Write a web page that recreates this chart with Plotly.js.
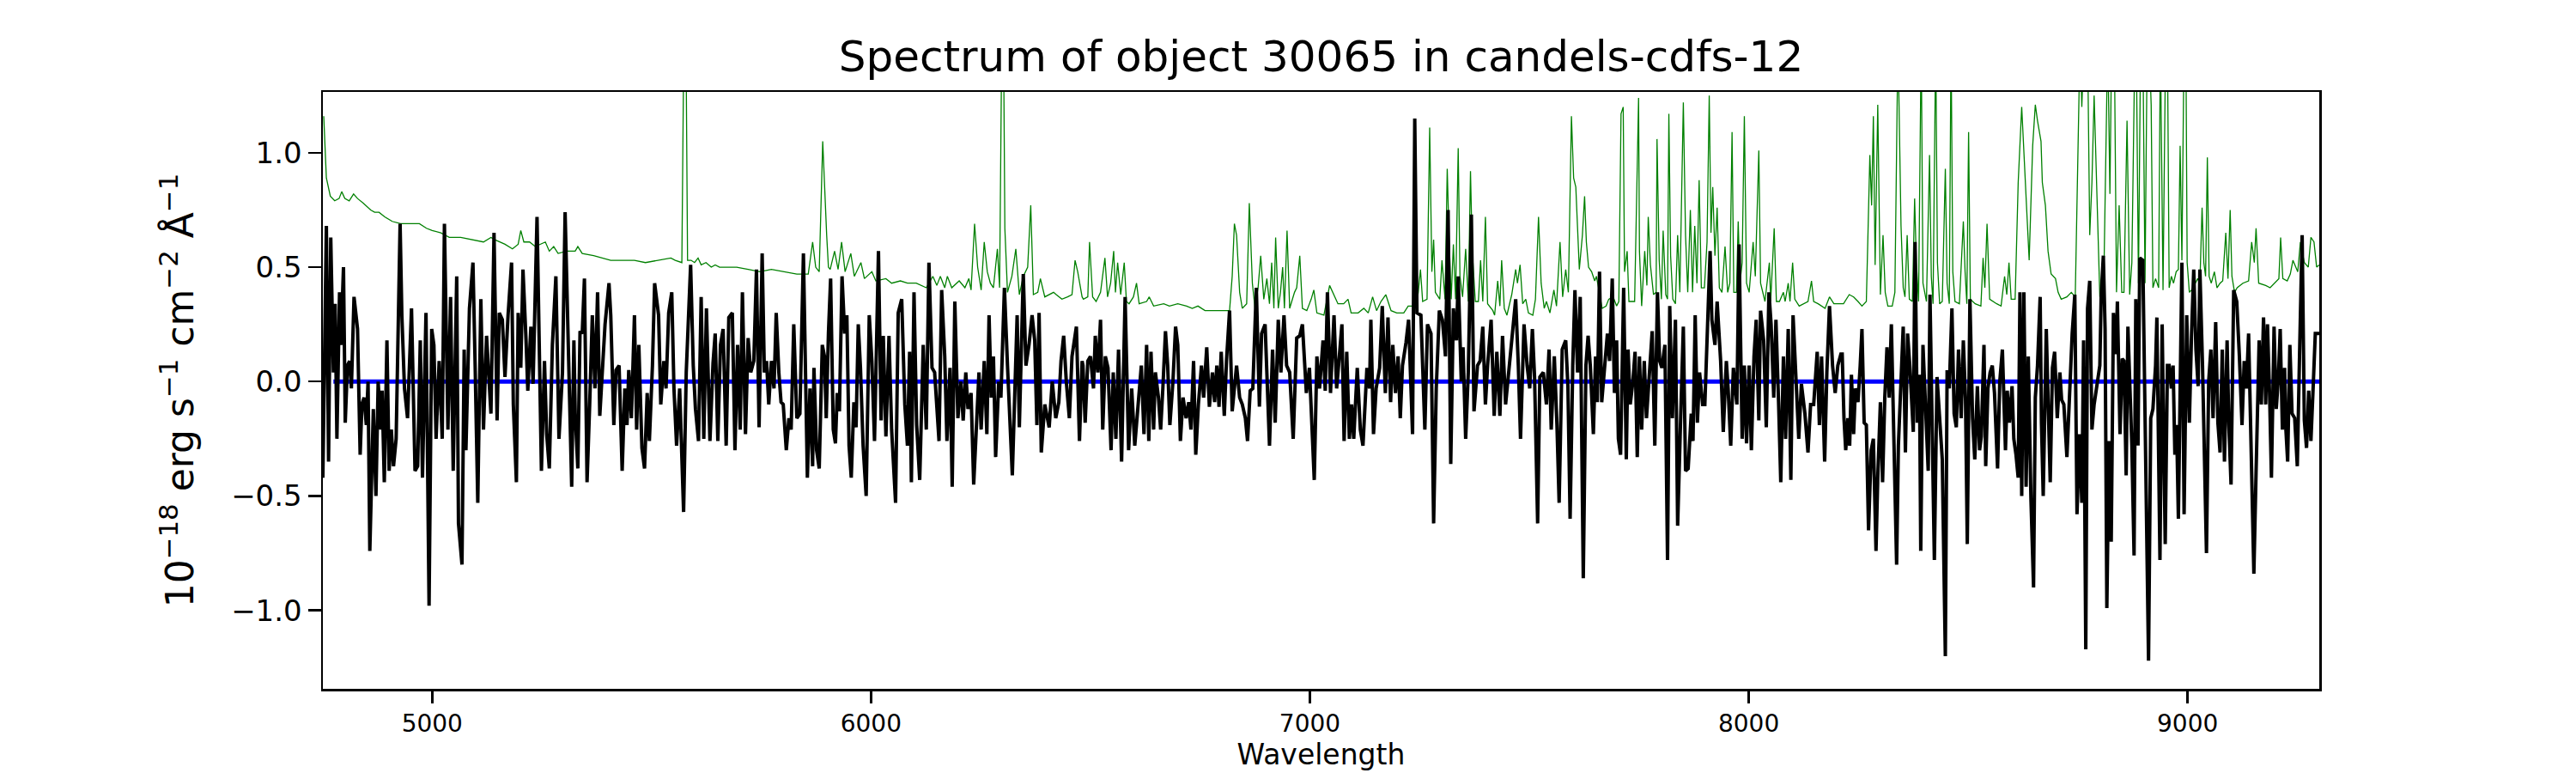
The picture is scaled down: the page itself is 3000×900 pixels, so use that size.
<!DOCTYPE html>
<html>
<head>
<meta charset="utf-8">
<script src="https://cdn.plot.ly/plotly-3.0.1.min.js"></script>
<style>html,body{margin:0;padding:0;background:#fff;}#chart{width:3000px;height:900px;}</style>
</head>
<body>
<div id="chart"></div>
<script>
// ---- data: [wavelength (Angstrom), flux (1e-18 erg/s/cm2/A)] ----
const flux1 = [[4751,-0.42],[4759,0.68],[4764,-0.35],[4769,0.63],[4775,0.04],[4779,0.34],[4783,-0.25],[4789,0.39],[4792,0.16],[4798,0.50],[4802,-0.18],[4807,0.07],[4812,0.09],[4816,-0.03],[4822,0.37],[4830,0.23],[4836,-0.32],[4840,-0.10],[4845,-0.07],[4850,-0.19],[4854,0.00],[4858,-0.74],[4866,-0.12],[4872,-0.50],[4877,0.00],[4883,-0.21],[4886,-0.04],[4891,-0.44],[4897,0.18],[4902,-0.39],[4907,-0.21],[4912,-0.37],[4918,-0.25],[4927,0.69],[4931,0.29],[4937,-0.03],[4944,-0.16],[4953,0.32],[4961,-0.39],[4967,-0.37],[4973,0.18],[4978,-0.42],[4986,0.30],[4993,-0.98],[4999,0.23],[5004,0.16],[5009,-0.25],[5016,0.09],[5023,-0.25],[5028,0.69],[5036,-0.21],[5042,0.37],[5048,-0.39],[5056,0.46],[5060,-0.62],[5068,-0.80],[5073,0.14],[5077,-0.30],[5085,0.32],[5093,0.52],[5098,0.07],[5104,-0.53],[5111,0.36],[5117,-0.21],[5124,0.20],[5134,-0.14],[5141,0.65],[5148,-0.17],[5153,0.30],[5160,0.27],[5166,0.02],[5173,0.29],[5181,0.52],[5185,-0.10],[5192,-0.44],[5196,0.30],[5202,0.06],[5207,0.49],[5214,0.18],[5218,-0.04],[5225,0.24],[5230,-0.01],[5239,0.72],[5249,-0.39],[5256,0.09],[5261,-0.23],[5267,-0.38],[5274,0.16],[5282,0.46],[5289,-0.25],[5297,0.04],[5303,0.74],[5318,-0.46],[5323,0.18]];
const flux2 = [[5326,-0.14],[5332,-0.38],[5337,0.22],[5342,0.21],[5347,0.45],[5353,-0.44],[5359,-0.10],[5365,0.29],[5371,-0.03],[5377,0.39],[5382,-0.15],[5388,0.07],[5394,0.25],[5403,0.43],[5407,0.29],[5414,-0.19],[5419,0.05],[5426,0.07],[5433,-0.39],[5439,-0.03],[5444,-0.19],[5448,0.05],[5454,-0.16],[5461,0.29],[5466,-0.21],[5471,0.16],[5478,-0.29],[5484,-0.38],[5490,-0.05],[5495,-0.26],[5502,0.07],[5507,0.43],[5516,0.29],[5521,-0.10],[5528,0.09],[5533,-0.03],[5539,0.30],[5546,0.39],[5551,-0.03],[5557,-0.28],[5564,-0.03],[5573,-0.57],[5579,0.04],[5589,0.51],[5595,0.07],[5600,-0.12],[5607,-0.26],[5613,0.37],[5619,-0.25],[5625,0.32],[5633,-0.26],[5640,0.08],[5645,0.21],[5651,-0.26],[5657,0.16],[5663,0.23],[5670,-0.28],[5676,0.28],[5684,0.30],[5690,-0.30],[5696,0.16],[5702,-0.21],[5707,0.39],[5714,-0.23],[5720,0.19],[5726,0.04],[5733,0.09],[5739,0.49],[5745,-0.20],[5752,0.56],[5757,0.04],[5762,0.09],[5767,-0.10],[5773,0.09],[5779,-0.03],[5784,0.30],[5790,0.04],[5795,-0.09],[5800,-0.10],[5807,-0.30],[5813,-0.16],[5818,-0.21],[5824,0.25],[5831,-0.16],[5838,-0.14],[5846,0.56],[5855,-0.42],[5861,-0.03],[5867,-0.37],[5870,0.06],[5876,-0.30],[5882,-0.38],[5889,0.16],[5894,0.11],[5898,-0.16],[5903,0.21]];
const flux3 = [[5908,0.45],[5914,-0.21],[5919,-0.27],[5923,-0.05],[5928,-0.13],[5934,0.46],[5940,0.21],[5945,0.29],[5950,-0.28],[5955,-0.42],[5961,-0.09],[5966,-0.20],[5971,0.25],[5976,0.06],[5982,-0.28],[5989,-0.50],[5996,0.29],[6002,0.09],[6008,-0.26],[6017,0.57],[6023,-0.17],[6028,0.20],[6034,-0.24],[6041,0.20],[6047,-0.21],[6056,-0.53],[6062,0.30],[6070,0.36],[6077,-0.10],[6083,-0.28],[6088,0.13],[6092,-0.44],[6098,0.39],[6104,-0.19],[6111,-0.43],[6119,0.16],[6126,-0.21],[6132,0.52],[6139,0.06],[6145,0.04],[6155,-0.26],[6161,0.40],[6168,0.11],[6173,-0.26],[6180,0.06],[6185,-0.46],[6191,0.35],[6198,-0.16],[6205,0.00],[6210,-0.17],[6216,0.04],[6221,-0.12],[6228,-0.05],[6234,-0.45],[6246,0.04],[6251,-0.21],[6258,0.09],[6264,-0.23],[6269,0.29],[6274,-0.07],[6279,0.11],[6284,-0.33],[6291,0.00],[6296,-0.07],[6304,0.41],[6311,0.07],[6322,-0.41],[6333,0.29],[6338,-0.20],[6347,0.47],[6353,0.07],[6360,0.16],[6367,0.29],[6373,0.18],[6378,-0.19],[6383,0.30],[6388,-0.31],[6396,-0.10],[6406,-0.20],[6413,0.00],[6421,-0.16],[6428,-0.09],[6433,0.09],[6439,0.20],[6445,0.00],[6452,-0.16],[6458,0.11],[6468,0.24],[6475,-0.26],[6481,0.09]];
const flux4 = [[6483,0.07],[6488,-0.18],[6494,0.09],[6500,0.11],[6507,-0.03],[6511,0.20],[6517,0.04],[6523,0.27],[6528,-0.21],[6534,0.11],[6540,0.06],[6547,-0.30],[6552,0.04],[6558,-0.25],[6564,0.14],[6571,-0.35],[6579,0.37],[6587,-0.30],[6594,-0.03],[6601,-0.28],[6609,-0.07],[6616,0.07],[6622,-0.23],[6628,0.16],[6633,-0.26],[6638,0.13],[6644,-0.21],[6648,0.04],[6655,-0.07],[6660,-0.21],[6665,-0.03],[6671,0.22],[6676,0.07],[6681,-0.19],[6688,0.00],[6694,0.24],[6699,0.16],[6705,-0.26],[6711,-0.07],[6718,-0.16],[6724,-0.09],[6729,-0.21],[6735,0.09],[6740,-0.32],[6746,-0.10],[6753,0.07],[6758,-0.07],[6765,0.15],[6771,-0.11],[6778,0.04],[6783,-0.09],[6788,0.07],[6793,-0.11],[6798,0.13],[6805,-0.15],[6810,0.09],[6817,0.31],[6823,-0.13],[6833,0.07],[6840,-0.07],[6846,-0.10],[6853,-0.16],[6858,-0.26],[6864,-0.04],[6870,-0.03],[6878,0.41],[6885,-0.11],[6890,0.21],[6898,0.25],[6903,0.00],[6908,-0.28],[6915,0.14],[6921,-0.18],[6928,0.27],[6934,0.04],[6941,0.29],[6947,0.07],[6954,0.04],[6962,-0.25],[6970,0.19],[6977,0.20],[6983,0.25],[6992,-0.05],[6999,0.06],[7010,-0.43],[7016,0.11],[7022,-0.03],[7030,0.18],[7035,-0.04],[7040,0.39],[7047,-0.05],[7055,0.29]];
const flux5 = [[7061,-0.03],[7068,0.13],[7073,0.25],[7078,-0.26],[7084,0.13],[7090,-0.25],[7095,-0.10],[7100,-0.25],[7108,0.06],[7115,-0.21],[7121,-0.28],[7130,0.06],[7136,-0.03],[7139,0.27],[7145,-0.23],[7151,-0.03],[7159,0.06],[7165,0.33],[7172,-0.05],[7178,0.28],[7184,-0.09],[7189,0.16],[7195,-0.05],[7201,0.11],[7206,-0.16],[7211,0.07],[7219,0.17],[7225,0.27],[7234,-0.23],[7239,1.15],[7244,0.30],[7253,0.29],[7262,-0.21],[7268,0.25],[7276,0.21],[7282,-0.62],[7288,-0.03],[7295,0.31],[7302,0.27],[7309,0.11],[7315,0.75],[7321,-0.36],[7327,0.32],[7334,0.18],[7338,0.46],[7345,0.00],[7349,0.15],[7355,-0.25],[7361,0.04],[7368,0.73],[7374,-0.13],[7382,0.07],[7388,0.09],[7394,0.24],[7400,-0.10],[7405,0.07],[7413,0.27],[7420,-0.15],[7426,0.13],[7433,-0.15],[7439,0.20],[7446,-0.10],[7452,0.02],[7459,0.16],[7469,0.36],[7475,0.07],[7480,-0.25],[7488,0.25],[7495,0.07],[7501,-0.03],[7507,0.23],[7512,0.02],[7519,-0.62],[7524,0.02],[7532,0.04],[7539,-0.10],[7545,0.14],[7550,-0.21],[7557,0.11],[7563,-0.19],[7568,-0.53],[7575,0.14],[7583,0.18],[7588,-0.02],[7593,-0.60],[7599,0.07],[7604,0.40],[7610,0.04],[7616,0.37],[7623,-0.86],[7629,0.07],[7634,0.20]];
const flux6 = [[7639,0.07],[7646,-0.23],[7651,0.11],[7655,-0.09],[7660,0.48],[7665,-0.09],[7672,0.07],[7678,0.21],[7683,0.09],[7689,0.45],[7694,-0.05],[7699,0.18],[7703,-0.25],[7708,-0.32],[7715,0.41],[7721,-0.34],[7725,0.14],[7730,-0.10],[7736,0.00],[7741,0.13],[7746,-0.33],[7751,0.11],[7756,-0.21],[7762,0.09],[7767,-0.16],[7773,0.00],[7780,0.22],[7786,-0.28],[7792,0.39],[7797,0.09],[7802,0.06],[7809,0.16],[7815,-0.78],[7820,0.33],[7826,-0.16],[7833,0.27],[7838,-0.63],[7845,-0.15],[7851,0.24],[7856,-0.39],[7862,-0.38],[7869,-0.14],[7873,-0.26],[7878,0.29],[7883,-0.18],[7888,0.04],[7895,-0.10],[7900,-0.10],[7905,0.21],[7912,0.57],[7916,0.27],[7923,0.16],[7928,0.35],[7936,0.09],[7942,-0.22],[7949,0.09],[7953,-0.03],[7959,-0.28],[7965,0.06],[7973,-0.10],[7978,0.60],[7985,-0.25],[7990,0.07],[7995,-0.27],[8001,0.07],[8006,-0.30],[8012,0.11],[8017,0.27],[8023,-0.17],[8027,0.31],[8034,0.18],[8040,-0.20],[8046,0.39],[8051,0.25],[8057,-0.07],[8062,0.27],[8068,-0.09],[8073,-0.44],[8079,0.11],[8084,-0.25],[8090,0.23],[8096,-0.43],[8101,0.29],[8109,-0.10],[8114,-0.25],[8120,-0.01],[8128,-0.14],[8135,-0.31],[8141,-0.10],[8148,-0.10],[8156,0.13],[8161,-0.19],[8166,0.11],[8173,-0.35],[8178,0.04],[8184,0.33],[8191,0.07],[8197,-0.05],[8203,0.07],[8210,0.12]];
const flux7 = [[8213,0.12],[8217,-0.16],[8221,-0.30],[8226,-0.16],[8230,-0.28],[8234,0.03],[8239,-0.23],[8243,-0.03],[8249,-0.09],[8254,0.07],[8258,0.23],[8263,-0.18],[8268,-0.19],[8273,-0.65],[8279,-0.30],[8284,-0.25],[8290,-0.74],[8294,-0.42],[8300,-0.09],[8305,-0.44],[8310,-0.07],[8315,0.15],[8320,-0.07],[8325,0.25],[8331,-0.34],[8337,-0.80],[8341,-0.28],[8347,-0.03],[8352,0.24],[8357,-0.31],[8362,0.21],[8367,0.07],[8371,-0.07],[8375,-0.22],[8379,0.61],[8384,-0.18],[8389,0.03],[8392,-0.74],[8397,0.16],[8404,-0.13],[8409,-0.39],[8413,0.38],[8418,-0.14],[8423,-0.78],[8429,0.02],[8435,-0.16],[8441,-0.34],[8448,-1.20],[8452,0.05],[8457,-0.03],[8463,0.32],[8468,-0.14],[8473,-0.20],[8478,0.14],[8484,-0.16],[8489,0.18],[8494,-0.08],[8498,-0.71],[8504,0.36],[8510,-0.16],[8515,-0.34],[8521,-0.02],[8526,-0.30],[8530,-0.24],[8536,0.16],[8540,-0.37],[8545,-0.03],[8550,0.04],[8555,0.07],[8560,-0.05],[8567,-0.38],[8572,0.00],[8578,0.14],[8585,-0.30],[8589,-0.04],[8594,-0.18],[8600,-0.02],[8604,-0.25],[8609,-0.32],[8614,-0.42],[8618,0.39],[8622,-0.50],[8627,0.39],[8632,-0.46],[8637,0.11],[8643,-0.51],[8649,-0.90],[8653,-0.07],[8658,0.07],[8664,0.37],[8667,-0.18],[8671,-0.50],[8678,0.23],[8682,-0.07],[8687,-0.44],[8692,0.06],[8697,0.13],[8703,-0.16],[8709,0.04],[8713,-0.08],[8718,-0.10],[8725,-0.33],[8730,-0.10],[8737,0.21],[8743,0.38],[8748,-0.58],[8754,-0.23],[8759,-0.53],[8763,0.18],[8768,-1.17],[8772,0.32],[8777,0.44],[8782,-0.21],[8787,-0.10]];
const flux8 = [[8800,0.07],[8803,0.37],[8808,0.55],[8812,0.23],[8816,-0.99],[8821,-0.26],[8826,-0.70],[8831,0.30],[8837,0.12],[8840,0.35],[8846,-0.23],[8851,0.10],[8855,0.09],[8860,-0.41],[8864,0.24],[8869,-0.03],[8873,-0.28],[8878,-0.76],[8882,0.36],[8887,-0.28],[8891,0.54],[8898,0.53],[8904,-0.21],[8911,-1.22],[8916,-0.16],[8921,-0.12],[8927,0.07],[8930,0.28],[8937,-0.78],[8942,0.25],[8949,-0.71],[8954,0.07],[8958,0.07],[8963,-0.03],[8967,0.07],[8971,-0.32],[8975,-0.19],[8979,-0.60],[8987,0.52],[8992,-0.58],[8998,0.29],[9004,-0.18],[9009,0.21],[9014,0.49],[9019,0.14],[9024,-0.02],[9028,0.49],[9034,0.07],[9043,-0.75],[9048,0.00],[9053,0.14],[9058,-0.16],[9064,0.26],[9069,-0.18],[9074,-0.31],[9079,0.14],[9084,-0.35],[9090,0.18],[9094,-0.19],[9099,-0.45],[9105,0.40],[9112,0.35],[9118,0.11],[9124,-0.19],[9129,0.09],[9134,-0.03],[9139,0.21],[9146,-0.39],[9151,-0.84],[9156,-0.40],[9163,0.18],[9168,-0.10],[9173,0.28],[9178,-0.10],[9182,0.25],[9187,-0.07],[9191,-0.42],[9197,0.24],[9202,-0.12],[9207,0.02],[9211,0.23],[9216,-0.21],[9221,0.06],[9224,-0.21],[9228,-0.35],[9233,0.16],[9238,-0.14],[9244,-0.16],[9250,-0.37],[9255,0.11],[9261,0.64],[9266,-0.17],[9271,-0.29],[9276,-0.04],[9281,-0.26],[9286,-0.03],[9291,0.21],[9296,0.21],[9300,0.21]];

// green curve (noise / sky level); values above the top of the axis are clipped in the picture
const noise1 = [[4753,1.16],[4759,0.89],[4768,0.81],[4778,0.79],[4788,0.80],[4794,0.83],[4801,0.80],[4811,0.79],[4821,0.82],[4830,0.80],[4843,0.78],[4860,0.75],[4869,0.74],[4879,0.74],[4892,0.72],[4909,0.70],[4928,0.69],[4948,0.69],[4971,0.69],[4987,0.67],[5000,0.66],[5020,0.65],[5039,0.63],[5065,0.63],[5091,0.62],[5117,0.61],[5134,0.63],[5143,0.62],[5166,0.60],[5183,0.58],[5196,0.60],[5202,0.66],[5209,0.61],[5222,0.61],[5235,0.59],[5258,0.61],[5267,0.57],[5277,0.59],[5287,0.56],[5307,0.57],[5326,0.57]];
const noise2 = [[5332,0.59],[5342,0.56],[5368,0.55],[5407,0.53],[5437,0.53],[5461,0.53],[5486,0.52],[5512,0.53],[5544,0.54],[5554,0.53],[5569,0.52],[5574,1.60],[5578,1.60],[5582,0.53],[5590,0.53],[5598,0.52],[5606,0.54],[5613,0.51],[5624,0.52],[5636,0.50],[5645,0.51],[5655,0.50],[5668,0.50],[5694,0.50],[5720,0.49],[5747,0.48],[5773,0.49],[5799,0.48],[5831,0.47],[5857,0.47],[5867,0.61],[5874,0.50],[5882,0.48],[5890,1.05],[5895,0.80],[5899,0.64],[5903,0.50]];
const noise3 = [[5907,0.49],[5917,0.57],[5925,0.49],[5933,0.61],[5941,0.48],[5954,0.56],[5962,0.46],[5977,0.52],[5985,0.45],[6002,0.48],[6011,0.44],[6034,0.45],[6047,0.43],[6067,0.44],[6083,0.43],[6103,0.43],[6126,0.41],[6141,0.46],[6150,0.42],[6158,0.46],[6168,0.41],[6174,0.46],[6184,0.41],[6201,0.44],[6214,0.41],[6223,0.45],[6228,0.40],[6236,0.69],[6243,0.50],[6251,0.40],[6258,0.61],[6265,0.48],[6272,0.43],[6279,0.41],[6288,0.58],[6293,0.41],[6298,1.50],[6302,1.50],[6305,0.67],[6311,0.39],[6321,0.46],[6330,0.58],[6338,0.38],[6347,0.46],[6357,0.50],[6364,0.77],[6370,0.38],[6380,0.39],[6386,0.45],[6396,0.37],[6416,0.39],[6422,0.38],[6435,0.36],[6448,0.37],[6458,0.38],[6465,0.53],[6471,0.48],[6481,0.37]];
const noise4 = [[6484,0.36],[6494,0.37],[6498,0.61],[6505,0.37],[6513,0.35],[6523,0.39],[6533,0.54],[6539,0.37],[6546,0.43],[6553,0.57],[6557,0.39],[6562,0.52],[6569,0.38],[6577,0.52],[6582,0.35],[6588,0.34],[6598,0.37],[6605,0.43],[6611,0.34],[6628,0.35],[6634,0.37],[6644,0.33],[6667,0.34],[6680,0.33],[6699,0.34],[6719,0.33],[6732,0.32],[6745,0.33],[6761,0.31],[6784,0.31],[6797,0.31],[6817,0.31],[6823,0.46],[6828,0.69],[6833,0.64],[6840,0.39],[6846,0.32],[6856,0.34],[6862,0.78],[6869,0.43],[6875,0.32],[6882,0.41],[6888,0.55],[6895,0.36],[6902,0.45],[6908,0.34],[6913,0.52],[6918,0.32],[6922,0.63],[6928,0.32],[6933,0.39],[6938,0.50],[6942,0.32],[6948,0.66],[6954,0.32],[6965,0.39],[6970,0.41],[6977,0.55],[6983,0.32],[6993,0.31],[7003,0.36],[7009,0.40],[7016,0.30],[7032,0.29],[7045,0.42],[7052,0.39],[7058,0.36]];
const noise5 = [[7064,0.34],[7077,0.34],[7087,0.36],[7094,0.30],[7110,0.30],[7123,0.32],[7133,0.30],[7143,0.37],[7152,0.31],[7162,0.35],[7173,0.38],[7185,0.31],[7198,0.30],[7214,0.30],[7224,0.33],[7234,0.33],[7242,0.32],[7247,0.39],[7252,0.49],[7257,0.35],[7267,0.36],[7273,1.11],[7278,0.48],[7282,0.62],[7286,0.39],[7296,0.36],[7301,0.53],[7308,0.36],[7313,0.93],[7317,0.64],[7322,0.36],[7327,0.60],[7332,0.36],[7338,1.02],[7342,0.46],[7348,0.37],[7355,0.58],[7361,0.35],[7366,0.92],[7370,0.57],[7377,0.35],[7384,0.35],[7389,0.53],[7394,0.35],[7400,0.72],[7405,0.34],[7417,0.31],[7421,0.29],[7428,0.44],[7433,0.33],[7437,0.53],[7443,0.32],[7449,0.29],[7460,0.38],[7469,0.49],[7473,0.43],[7479,0.51],[7485,0.34],[7492,0.36],[7498,0.30],[7508,0.29],[7514,0.36],[7521,0.72],[7527,0.43],[7534,0.32],[7539,0.35],[7547,0.30],[7556,0.40],[7562,0.33],[7570,0.61],[7576,0.37],[7583,0.49],[7589,0.39],[7596,1.16],[7601,0.89],[7606,0.85],[7614,0.49],[7621,0.64],[7626,0.81],[7630,0.61],[7635,0.50]];
const noise6 = [[7642,0.48],[7649,0.44],[7653,0.46],[7659,0.40],[7666,0.32],[7675,0.33],[7681,0.36],[7691,0.37],[7699,0.33],[7704,0.35],[7709,1.17],[7714,1.20],[7717,0.48],[7723,0.57],[7727,0.35],[7740,0.35],[7745,0.87],[7749,1.24],[7751,0.57],[7756,0.33],[7763,0.57],[7768,0.42],[7771,0.72],[7776,0.51],[7783,0.38],[7789,0.39],[7791,1.06],[7796,0.53],[7801,0.36],[7805,0.66],[7811,0.38],[7815,0.36],[7818,1.17],[7822,0.55],[7827,0.36],[7833,0.34],[7838,0.64],[7843,0.39],[7851,1.22],[7856,0.64],[7861,0.39],[7867,0.75],[7872,0.39],[7877,0.68],[7882,0.43],[7887,0.88],[7892,0.41],[7899,0.41],[7905,0.61],[7910,1.25],[7914,0.65],[7918,0.85],[7923,0.55],[7928,0.76],[7933,0.41],[7939,0.39],[7946,0.59],[7952,0.39],[7957,0.43],[7962,1.09],[7966,0.39],[7972,0.39],[7976,0.70],[7980,0.43],[7985,0.52],[7990,1.16],[7995,0.43],[8001,0.39],[8010,0.61],[8015,0.46],[8023,1.01],[8027,0.43],[8037,0.35],[8047,0.52],[8050,0.35],[8058,0.67],[8063,0.35],[8070,0.35],[8079,0.39],[8083,0.35],[8090,0.43],[8094,0.35],[8100,0.52],[8105,0.36],[8115,0.33],[8135,0.35],[8143,0.44],[8148,0.35],[8158,0.34],[8174,0.32],[8184,0.37],[8194,0.34],[8213,0.34]];
const noise7 = [[8216,0.34],[8229,0.38],[8239,0.37],[8249,0.35],[8258,0.33],[8268,0.35],[8276,0.99],[8280,0.77],[8284,1.16],[8288,0.51],[8294,1.21],[8300,0.38],[8306,0.64],[8311,0.39],[8317,0.33],[8327,0.33],[8333,0.39],[8340,1.50],[8344,1.05],[8347,0.68],[8352,0.41],[8356,0.37],[8361,0.64],[8366,0.36],[8373,0.35],[8378,0.80],[8382,0.52],[8387,0.35],[8393,1.50],[8397,0.43],[8405,0.35],[8412,0.99],[8416,0.46],[8420,0.34],[8426,1.50],[8430,0.52],[8435,0.34],[8441,0.35],[8448,0.93],[8452,0.43],[8457,0.34],[8461,1.50],[8465,0.48],[8470,0.35],[8480,0.34],[8489,0.70],[8493,0.48],[8497,0.34],[8501,1.09],[8505,0.36],[8516,0.34],[8529,0.33],[8534,0.54],[8538,0.41],[8543,0.69],[8549,0.36],[8565,0.34],[8575,0.33],[8583,0.46],[8588,0.38],[8593,0.52],[8598,0.36],[8607,0.36],[8614,0.87],[8622,1.20],[8630,0.87],[8639,0.53],[8647,1.03],[8653,1.21],[8658,1.14],[8666,1.05],[8669,0.87],[8676,0.77],[8682,0.57],[8689,0.47],[8699,0.45],[8705,0.39],[8712,0.36],[8725,0.37],[8735,0.39],[8744,0.37],[8751,1.09],[8755,1.50],[8759,1.20],[8764,1.50],[8772,1.50],[8777,0.64],[8782,0.87],[8787,1.25]];
const noise8 = [[8800,0.37],[8805,0.41],[8810,0.55],[8818,1.50],[8823,0.82],[8827,1.50],[8833,1.50],[8838,0.39],[8844,0.77],[8850,0.39],[8855,0.39],[8862,1.14],[8868,0.38],[8873,0.52],[8880,1.50],[8883,1.50],[8888,0.43],[8893,1.50],[8898,1.50],[8903,0.43],[8908,1.50],[8912,1.50],[8917,1.21],[8921,0.41],[8927,0.45],[8934,0.41],[8938,1.50],[8944,0.40],[8950,1.50],[8954,1.50],[8958,0.41],[8963,0.46],[8968,0.43],[8974,0.48],[8979,0.49],[8983,1.03],[8987,0.53],[8992,1.50],[8996,1.50],[8999,0.52],[9004,0.39],[9009,0.40],[9015,0.42],[9023,0.45],[9028,0.43],[9033,0.76],[9037,0.52],[9041,0.46],[9045,0.98],[9049,0.46],[9054,0.43],[9061,0.48],[9067,0.41],[9074,0.43],[9080,0.44],[9087,0.65],[9092,0.45],[9097,0.75],[9101,0.46],[9107,0.39],[9113,0.41],[9126,0.43],[9139,0.44],[9146,0.61],[9152,0.52],[9156,0.67],[9162,0.43],[9178,0.42],[9188,0.41],[9198,0.43],[9208,0.45],[9212,0.63],[9217,0.45],[9227,0.44],[9234,0.47],[9240,0.53],[9246,0.50],[9251,0.48],[9257,0.61],[9266,0.52],[9275,0.50],[9281,0.63],[9288,0.61],[9294,0.50],[9300,0.51]];

// flat zero (model) line
const zeroWave = [4775, 9300];
const zeroFlux = [0, 0];

// axis ticks
const xTickVals = [5000, 6000, 7000, 8000, 9000];
const xTickText = ['5000', '6000', '7000', '8000', '9000'];
const yTickVals = [-1.0, -0.5, 0.0, 0.5, 1.0];
const yTickText = ['\u22121.0', '\u22120.5', '0.0', '0.5', '1.0'];

const titleText = 'Spectrum of object 30065 in candels-cdfs-12';
const xTitle = 'Wavelength';
const yTitle = '10<sup>\u221218</sup> erg s<sup>\u22121</sup> cm<sup>\u22122</sup> \u00c5<sup>\u22121</sup>';

// ---- build traces ----
const fluxPts = [].concat(flux1, flux2, flux3, flux4, flux5, flux6, flux7, flux8);
const noisePts = [].concat(noise1, noise2, noise3, noise4, noise5, noise6, noise7, noise8);

const FONT = 'DejaVu Sans, Liberation Sans, sans-serif';

const traces = [
  {x: noisePts.map(p => p[0]), y: noisePts.map(p => p[1]), type: 'scatter', mode: 'lines',
   line: {color: '#008000', width: 1.3}, hoverinfo: 'skip'},
  {x: zeroWave, y: zeroFlux, type: 'scatter', mode: 'lines',
   line: {color: '#0000ff', width: 5}, hoverinfo: 'skip'},
  {x: fluxPts.map(p => p[0]), y: fluxPts.map(p => p[1]), type: 'scatter', mode: 'lines',
   line: {color: '#000000', width: 4}, hoverinfo: 'skip'}
];

const layout = {
  width: 3000, height: 900,
  margin: {l: 376, r: 299, t: 107, b: 98, pad: 0},
  paper_bgcolor: '#ffffff', plot_bgcolor: '#ffffff',
  showlegend: false,
  font: {family: FONT, color: '#000000'},
  title: {text: titleText, font: {family: FONT, size: 50, color: '#000000'},
          x: 0.5, xanchor: 'center', xref: 'paper', y: 0.927, yanchor: 'middle'},
  xaxis: {
    range: [4751, 9300], autorange: false,
    tickvals: xTickVals, ticktext: xTickText,
    ticks: 'outside', ticklen: 14, tickwidth: 2.5, tickcolor: '#000',
    tickfont: {family: FONT, size: 28, color: '#000'},
    showline: true, linecolor: '#000', linewidth: 2.5, mirror: true,
    showgrid: false, zeroline: false,
    title: {text: xTitle, font: {family: FONT, size: 33, color: '#000'}, standoff: 6}
  },
  yaxis: {
    range: [-1.343, 1.266], autorange: false,
    tickvals: yTickVals, ticktext: yTickText,
    ticks: 'outside', ticklen: 15, tickwidth: 2.5, tickcolor: '#000',
    tickfont: {family: FONT, size: 34, color: '#000'},
    showline: true, linecolor: '#000', linewidth: 2.5, mirror: true,
    showgrid: false, zeroline: false,
    title: {text: yTitle, font: {family: FONT, size: 44, color: '#000'}, standoff: 30}
  }
};

Plotly.newPlot('chart', traces, layout, {staticPlot: true, displayModeBar: false});
</script>
</body>
</html>
